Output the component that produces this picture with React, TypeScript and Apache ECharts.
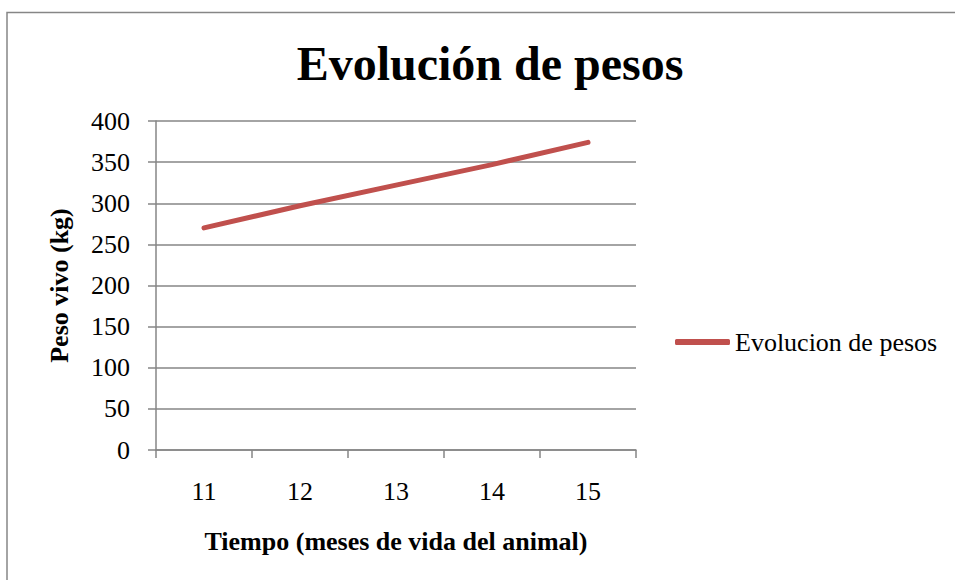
import React, { useEffect, useRef } from "react";
import * as echarts from "echarts";

const months = ["11", "12", "13", "14", "15"];
const weights = [270, 297, 322, 347, 374];
const seriesName = "Evolucion de pesos";
const titleText = "Evolución de pesos";
const xTitle = "Tiempo (meses de vida del animal)";
const yTitle = "Peso vivo (kg)";

const FONT = "Liberation Serif";
const GRAY = "#868686";

export default function App() {
  const ref = useRef<HTMLDivElement>(null);
  useEffect(() => {
    if (!ref.current) return;
    const chart = echarts.init(ref.current, null, { renderer: "svg" });
    chart.setOption({
      animation: false,
      backgroundColor: "#ffffff",
      textStyle: { fontFamily: FONT, color: "#000" },
      graphic: [
        {
          type: "rect",
          shape: { x: 7, y: 12.5, width: 2000, height: 2000 },
          style: { fill: "none", stroke: GRAY, lineWidth: 1.5 },
          silent: true,
        },
        {
          type: "text",
          x: 490,
          y: 63,
          style: {
            text: titleText,
            fontFamily: FONT,
            fontSize: 48,
            fontWeight: "bold",
            fill: "#000",
            textAlign: "center",
            textVerticalAlign: "middle",
          },
        },
      ],
      legend: {
        left: 670,
        top: 324,
        itemWidth: 55,
        itemHeight: 6,
        itemGap: 5,
        icon: "roundRect",
        data: [seriesName],
        textStyle: { fontFamily: FONT, fontSize: 26, fontWeight: "normal", color: "#000", lineHeight: 26 },
      },
      grid: { left: 156, right: 319, top: 121, bottom: 130, containLabel: false },
      xAxis: {
        type: "category",
        data: months,
        boundaryGap: true,
        name: xTitle,
        nameLocation: "middle",
        nameGap: 78,
        nameTextStyle: { fontFamily: FONT, fontSize: 26, fontWeight: "bold", color: "#000" },
        axisLine: { lineStyle: { color: GRAY, width: 1.5 } },
        axisTick: { show: true, length: 8, alignWithLabel: false, lineStyle: { color: GRAY, width: 1.5 } },
        axisLabel: { margin: 28, fontFamily: FONT, fontSize: 26, fontWeight: "normal", color: "#000" },
        splitLine: { show: false },
      },
      yAxis: {
        type: "value",
        min: 0,
        max: 400,
        interval: 50,
        name: yTitle,
        nameLocation: "middle",
        nameGap: 84,
        nameTextStyle: { fontFamily: FONT, fontSize: 26, fontWeight: "bold", color: "#000" },
        axisLine: { show: true, lineStyle: { color: GRAY, width: 1.5 } },
        axisTick: { show: true, length: 8, lineStyle: { color: GRAY, width: 1.5 } },
        axisLabel: { margin: 26, fontFamily: FONT, fontSize: 26, fontWeight: "normal", color: "#000" },
        splitLine: { show: true, lineStyle: { color: GRAY, width: 1.5 } },
      },
      series: [
        {
          name: seriesName,
          type: "line",
          data: weights,
          symbol: "none",
          showSymbol: false,
          color: "#C0504D",
          lineStyle: { color: "#C0504D", width: 5, cap: "round", join: "round" },
          itemStyle: { color: "#C0504D" },
        },
      ],
    });
    return () => chart.dispose();
  }, []);
  return (
    <div
      ref={ref}
      style={{ position: "fixed", left: 0, top: 0, width: 955, height: 580 }}
    />
  );
}
